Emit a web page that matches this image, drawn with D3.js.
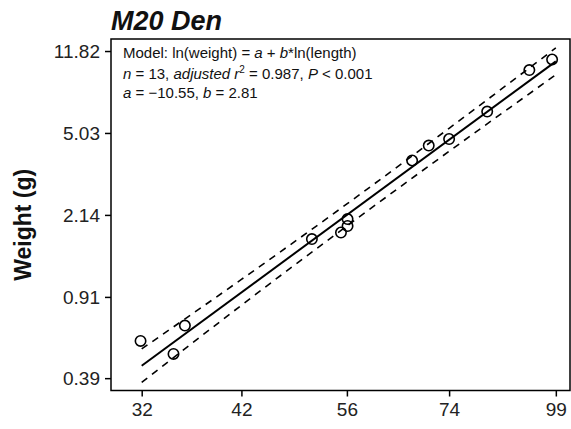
<!DOCTYPE html>
<html><head><meta charset="utf-8">
<script src="https://cdn.jsdelivr.net/npm/d3@7"></script>
<style>body{margin:0;background:#fff}svg{display:block}</style>
</head><body>
<svg id="c" width="571" height="429"></svg>
<script>
const lengths = [31.9, 34.9, 36.0, 50.9, 55.1, 56.1, 56.1, 66.9, 70.0, 74.0, 82.1, 92.1, 98.0];
const weights = [0.575, 0.502, 0.675, 1.664, 1.781, 1.906, 2.050, 3.774, 4.412, 4.722, 6.289, 9.695, 10.82];
const fitLen = [32, 99];
const fitW = [0.444, 10.61];
const bandLen = [32, 42, 56, 74, 99];
const bandUpper = [0.529, 1.092, 2.399, 5.28, 12.21];
const bandLower = [0.373, 0.834, 1.906, 4.154, 9.23];
const xTicks = [32, 42, 56, 74, 99];
const yTicks = [0.39, 0.91, 2.14, 5.03, 11.82];
const yTickLabels = ["0.39", "0.91", "2.14", "5.03", "11.82"];
const title = "M20 Den";
const yLabel = "Weight (g)";

const svg = d3.select("#c");
const L = 111, R = 570, T = 39, B = 390.5;
const x = d3.scaleLog().domain([29.43, 102.9]).range([L, R]);
const y = d3.scaleLog().domain([0.3429, 13.40]).range([B, T]);
const font = "'Liberation Sans', Arial, sans-serif";

svg.append("g").attr("transform", `translate(0,${B})`)
  .call(d3.axisBottom(x).tickValues(xTicks).tickFormat(d3.format("d")).tickSize(6).tickPadding(6))
  .call(g => { g.select(".domain").remove(); g.selectAll("line").attr("stroke", "#000").attr("stroke-width", 1.5);
    g.selectAll("text").attr("font-family", font).attr("font-size", 19).attr("fill", "#222"); });

svg.append("g").attr("transform", `translate(${L},0)`)
  .call(d3.axisLeft(y).tickValues(yTicks).tickFormat((d, i) => yTickLabels[i]).tickSize(6).tickPadding(5))
  .call(g => { g.select(".domain").remove(); g.selectAll("line").attr("stroke", "#000").attr("stroke-width", 1.5);
    g.selectAll("text").attr("font-family", font).attr("font-size", 19).attr("fill", "#222"); });

svg.append("rect").attr("x", L).attr("y", T).attr("width", R - L).attr("height", B - T)
  .attr("fill", "none").attr("stroke", "#000").attr("stroke-width", 1.5);

const line = d3.line().x(d => x(d[0])).y(d => y(d[1]));
svg.append("path").datum(d3.zip(fitLen, fitW)).attr("d", line)
  .attr("fill", "none").attr("stroke", "#000").attr("stroke-width", 2);
const cline = d3.line().x(d => x(d[0])).y(d => y(d[1])).curve(d3.curveMonotoneX);
[bandUpper, bandLower].forEach(b => {
  svg.append("path").datum(d3.zip(bandLen, b)).attr("d", cline)
    .attr("fill", "none").attr("stroke", "#000").attr("stroke-width", 1.6).attr("stroke-dasharray", "7,6");
});

svg.append("g").selectAll("circle").data(d3.zip(lengths, weights)).join("circle")
  .attr("cx", d => x(d[0])).attr("cy", d => y(d[1])).attr("r", 5.2)
  .attr("fill", "none").attr("stroke", "#000").attr("stroke-width", 1.6);

svg.append("text").attr("x", L).attr("y", 30).attr("font-family", font)
  .attr("font-size", 27).attr("font-weight", "bold").attr("font-style", "italic").attr("fill", "#111").text(title);

svg.append("text").attr("transform", `translate(31,${(T + B) / 2 + 10}) rotate(-90)`)
  .attr("text-anchor", "middle").attr("font-family", font).attr("font-size", 23).attr("font-weight", "bold")
  .attr("fill", "#111").text(yLabel);

const ann = svg.append("g").attr("font-family", font).attr("font-size", 15).attr("fill", "#111");
function addLine(yy, parts) {
  const t = ann.append("text").attr("x", 123).attr("y", yy);
  parts.forEach(p => {
    const s = t.append("tspan").text(p[0]);
    if (p[1] === "i") s.attr("font-style", "italic");
    if (p[1] === "sup") s.attr("font-size", 10).attr("dy", -6);
    if (p[1] === "down") s.attr("dy", 6);
  });
}
addLine(58, [["Model: ln(weight) = "], ["a", "i"], [" + "], ["b", "i"], ["*ln(length)"]]);
addLine(79, [["n", "i"], [" = 13, "], ["adjusted r", "i"], ["2", "sup"], [" = 0.987, ", "down"], ["P", "i"], [" < 0.001"]]);
addLine(98, [["a", "i"], [" = \u221210.55, "], ["b", "i"], [" = 2.81"]]);
</script>
</body></html>
